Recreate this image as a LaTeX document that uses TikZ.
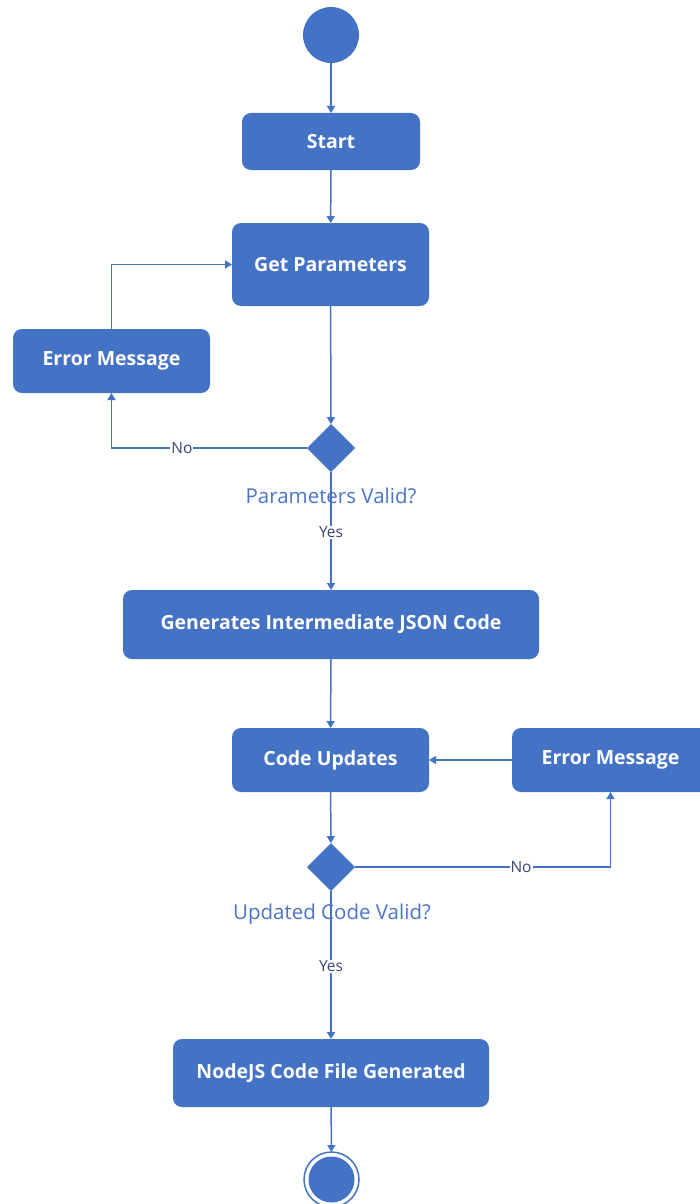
\documentclass[tikz,border=0pt]{standalone}
\usepackage{fontspec}
\setmainfont{Open Sans}
\usetikzlibrary{shapes.geometric,arrows.meta}
\definecolor{ofblue}{HTML}{4472C4}
\definecolor{lblblue}{HTML}{4A74C9}
\definecolor{yncol}{HTML}{3A4670}
\begin{document}
\begin{tikzpicture}[x=1pt,y=-1pt,
  act/.style={rectangle, fill=ofblue, rounded corners=9pt, text=white,
    font=\fontsize{19.5}{22}\selectfont\bfseries, inner sep=0pt, outer sep=0pt},
  dec/.style={diamond, fill=ofblue, minimum width=48pt, minimum height=48pt,
    inner sep=0pt, outer sep=0pt},
  declabel/.style={text=lblblue, font=\fontsize{20.5}{23}\selectfont, inner sep=0pt},
  yn/.style={fill=white, text=yncol, font=\fontsize{15.5}{17}\selectfont, inner sep=1pt},
  flow/.style={draw=ofblue, line width=1.5pt, -{Triangle[length=7pt,width=8pt]}}]
\useasboundingbox (0,0) rectangle (700,1204);

% initial and final states
\node[circle, fill=ofblue, minimum size=56pt, inner sep=0pt, outer sep=0pt] (init) at (331,35) {};
\node[circle, fill=ofblue, minimum size=46pt, inner sep=0pt] (final) at (331.5,1179.5) {};
\node[circle, draw=ofblue, line width=1.5pt, minimum size=55pt, inner sep=0pt, outer sep=0pt] (finalring) at (331.5,1179.5) {};

% actions
\node[act, minimum width=178pt, minimum height=57pt] (start) at (331,141.5) {Start};
\node[act, minimum width=197pt, minimum height=83pt] (getp) at (330.5,264.5) {Get Parameters};
\node[act, minimum width=197pt, minimum height=64pt] (err1) at (111.5,361) {Error Message};
\node[act, minimum width=416pt, minimum height=69pt] (gen) at (331,624.5) {Generates Intermediate JSON Code};
\node[act, minimum width=197pt, minimum height=64pt] (code) at (330.5,760) {Code Updates};
\node[act, minimum width=197pt, minimum height=64pt] (err2) at (610.5,760) {Error Message};
\node[act, minimum width=316pt, minimum height=68pt] (nodejs) at (331,1073) {NodeJS Code File Generated};

% decisions
\node[dec] (dec1) at (331,448) {};
\node[declabel] (lab1) at (331,496) {Parameters Valid?};
\node[dec] (dec2) at (331,867) {};
\node[declabel] (lab2) at (332,914) {Updated Code Valid?};

% connectors
\draw[flow] (init) -- (start);
\draw[flow] (start) -- (getp);
\draw[flow] (getp) -- (dec1);
\draw[flow] (dec1.west) -- node[yn, pos=0.64] {No} (err1.south |- dec1.west) -- (err1.south);
\draw[flow] (err1.north) |- (getp.west);
\draw[flow] (dec1.south) -- node[yn, pos=0.51] {Yes} (gen.north);
\draw[flow] (gen) -- (code);
\draw[flow] (err2.west) -- (code.east);
\draw[flow] (code) -- (dec2);
\draw[flow] (dec2.east) -- node[yn, pos=0.65] {No} (err2.south |- dec2.east) -- (err2.south);
\draw[flow] (dec2.south) -- node[yn, pos=0.51] {Yes} (nodejs.north);
\draw[flow] (nodejs) -- (finalring);
\end{tikzpicture}
\end{document}
